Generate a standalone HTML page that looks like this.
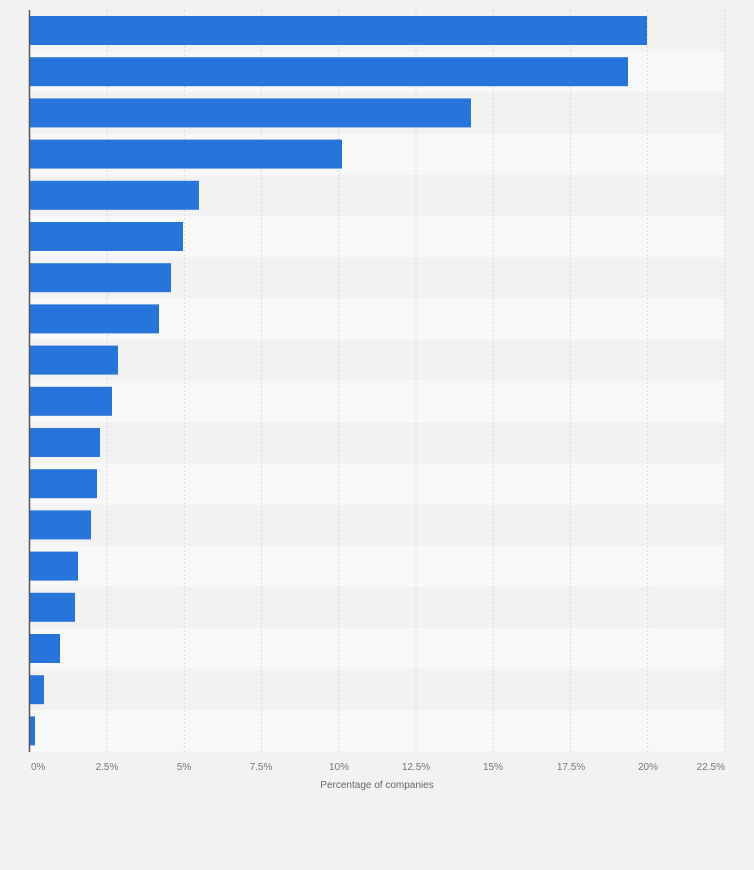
<!DOCTYPE html>
<html><head><meta charset="utf-8"><style>
html,body{margin:0;padding:0;background:#f2f2f2;}
body{width:754px;height:870px;overflow:hidden;font-family:"Liberation Sans",sans-serif;}
</style></head><body>
<svg width="754" height="870" xmlns="http://www.w3.org/2000/svg" style="display:block">
<rect width="754" height="870" fill="#f2f2f2"/>
<g id="stripes"></g>
<g id="grid"></g>
<g id="bars"></g>
<line x1="29.5" y1="10" x2="29.5" y2="752" stroke="#555" stroke-width="1.5"/>
<g font-size="10" fill="#777">
<text x="31" y="770">0%</text>
<text x="107" y="770" text-anchor="middle">2.5%</text>
<text x="184" y="770" text-anchor="middle">5%</text>
<text x="261" y="770" text-anchor="middle">7.5%</text>
<text x="339" y="770" text-anchor="middle">10%</text>
<text x="416" y="770" text-anchor="middle">12.5%</text>
<text x="493" y="770" text-anchor="middle">15%</text>
<text x="571" y="770" text-anchor="middle">17.5%</text>
<text x="648" y="770" text-anchor="middle">20%</text>
<text x="725" y="770" text-anchor="end">22.5%</text>
</g>
<text x="377" y="788" font-size="10" fill="#666" text-anchor="middle">Percentage of companies</text>
</svg>
<script>
var ns="http://www.w3.org/2000/svg";
function el(p,t,a){var e=document.createElementNS(ns,t);for(var k in a)e.setAttribute(k,a[k]);document.getElementById(p).appendChild(e);}
var rh=41.2,top0=10;
for(var i=0;i<18;i++){ if(i%2==1) el("stripes","rect",{x:30,y:top0+i*rh,width:695,height:rh,fill:"#f8f8f8"}); }
for(var j=1;j<=9;j++){var x=30+j*77.2; el("grid","line",{x1:x,y1:10,x2:x,y2:752,stroke:"#dadada","stroke-width":1,"stroke-dasharray":"2,2"});}
var ends=[647,628,471,342,199,183,171,159,118,112,100,97,91,78,75,60,44,35];
for(var i=0;i<18;i++){ el("bars","rect",{x:30,y:top0+i*rh+6,width:ends[i]-30,height:29,fill:"#2775dc"}); }
</script>
</body></html>
